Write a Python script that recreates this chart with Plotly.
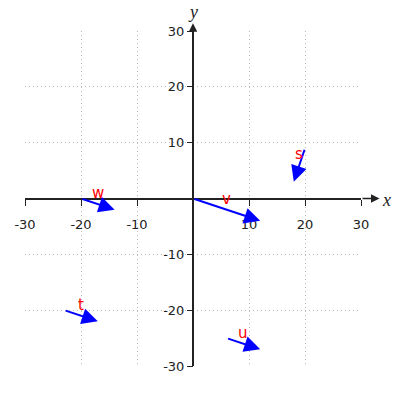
import plotly.graph_objects as go

# Vector data: names, start points, end points
names = ["v", "w", "s", "t", "u"]
x0 = [0, -20, 20, -23, 6]
y0 = [0, 0, 9, -20, -25]
x1 = [12, -14, 18, -17, 12]
y1 = [-4, -2, 3, -22, -27]

tick_vals = [-30, -20, -10, 10, 20, 30]
tick_text = ["-30", "-20", "-10", "10", "20", "30"]
axis_max_x = 33.3
axis_max_y = 31.4

fig = go.Figure()
# invisible trace to establish axes
fig.add_trace(go.Scatter(x=[-30, 30], y=[-30, 30], mode="markers",
                         marker=dict(opacity=0), hoverinfo="skip", showlegend=False))

annotations = []
for n, a, b, c, d in zip(names, x0, y0, x1, y1):
    annotations.append(dict(x=c, y=d, ax=a, ay=b, xref="x", yref="y", axref="x", ayref="y",
                            text="", showarrow=True, arrowhead=2, arrowsize=1.6, arrowwidth=2,
                            arrowcolor="blue", standoff=0, startstandoff=0))
    annotations.append(dict(x=(a + c) / 2, y=(b + d) / 2, xref="x", yref="y", text=n,
                            showarrow=False, yshift=11,
                            font=dict(color="red", size=15, family="DejaVu Sans")))

# axis arrow extensions
annotations.append(dict(x=axis_max_x, y=0, ax=30, ay=0, xref="x", yref="y", axref="x", ayref="y",
                        text="", showarrow=True, arrowhead=2, arrowsize=1.3, arrowwidth=1.3,
                        arrowcolor="#222", standoff=0))
annotations.append(dict(x=0, y=axis_max_y, ax=0, ay=30, xref="x", yref="y", axref="x", ayref="y",
                        text="", showarrow=True, arrowhead=2, arrowsize=1.3, arrowwidth=1.3,
                        arrowcolor="#222", standoff=0))
annotations.append(dict(x=30, y=0, xref="x", yref="y", text="<i>x</i>", showarrow=False,
                        xanchor="center", yanchor="middle", xshift=25, yshift=-1,
                        font=dict(size=18, family="Liberation Serif", color="#222")))
annotations.append(dict(x=0, y=30, xref="x", yref="y", text="<i>y</i>", showarrow=False,
                        xanchor="center", yanchor="middle", yshift=19,
                        font=dict(size=18, family="Liberation Serif", color="#222")))

xdom = [25 / 400, 361 / 400]
ydom = [34 / 400, 369 / 400]

common = dict(range=[-30, 30], anchor="free", automargin=False,
              tickvals=tick_vals, ticktext=tick_text, ticks="outside", ticklen=6,
              tickcolor="#222", tickwidth=1.3,
              tickfont=dict(size=13, family="DejaVu Sans", color="#222"),
              showgrid=True, gridcolor="#bdbdbd", griddash="1px,3px", gridwidth=1,
              zeroline=True, zerolinecolor="#222", zerolinewidth=1.5,
              showline=False, fixedrange=True)

fig.update_layout(
    width=400, height=400,
    margin=dict(l=0, r=0, t=0, b=0, autoexpand=False),
    paper_bgcolor="white", plot_bgcolor="white",
    annotations=annotations,
    xaxis=dict(domain=xdom, position=(ydom[0] + ydom[1]) / 2, ticklabelstandoff=8, **common),
    yaxis=dict(domain=ydom, position=(xdom[0] + xdom[1]) / 2, **common),
)

fig.write_html("out.html", config={"displayModeBar": False},
               post_script="document.body.style.margin='0px';")
